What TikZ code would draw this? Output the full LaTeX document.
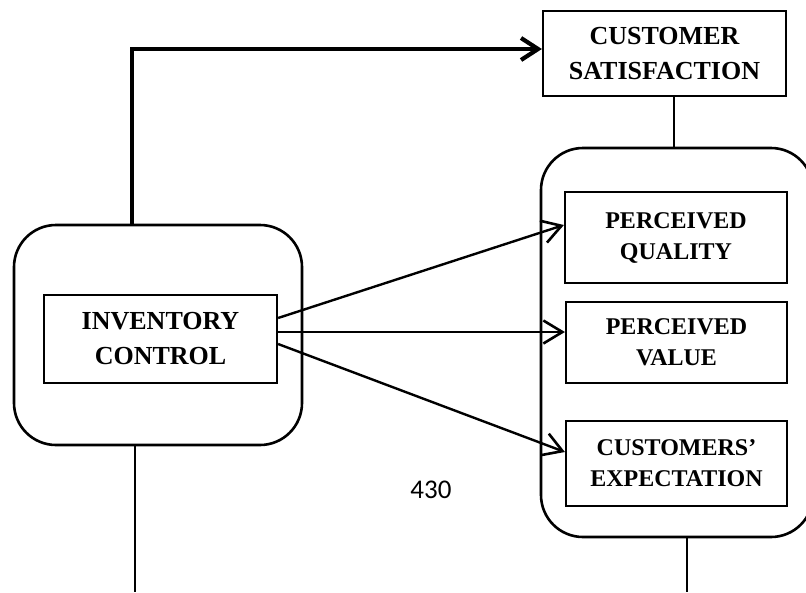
\documentclass[tikz,border=0pt]{standalone}
\usepackage{fontspec}
\setmainfont{Liberation Serif}
\newfontfamily\carl{Carlito}
\usetikzlibrary{arrows.meta,calc}
\tikzset{
  box/.style={draw,line width=2.2pt,align=center,inner sep=0pt,font=\bfseries},
  bigtxt/.style={font=\fontsize{26}{35}\selectfont\bfseries},
  smalltxt/.style={font=\fontsize{24}{31}\selectfont\bfseries},
  rbox/.style={draw,line width=2.6pt,rounded corners=42pt,inner sep=0pt},
  conn/.style={line width=2.4pt},
  arr/.style={line width=2.4pt,-{Straight Barb[length=19pt,width=23pt,line width=2.6pt]}},
  toparr/.style={line width=4.2pt,-{Straight Barb[length=17pt,width=22pt,line width=4.2pt]}}
}
\begin{document}
\begin{tikzpicture}[x=1pt,y=-1pt]
\useasboundingbox (0,0) rectangle (806,592);
% rounded containers
\node[rbox,minimum width=288pt,minimum height=220pt] (lb) at (158,335) {};
\node[rbox,minimum width=272pt,minimum height=389pt] (rb) at (677,342.5) {};
% boxes
\node[box,bigtxt,minimum width=233pt,minimum height=88pt] (ic) at (160.5,339) {INVENTORY\\CONTROL};
\node[box,bigtxt,minimum width=243pt,minimum height=85pt] (cs) at (664.5,53.5) {CUSTOMER\\SATISFACTION};
\node[box,smalltxt,minimum width=222pt,minimum height=91pt] (pq) at (676,237.5) {PERCEIVED\\QUALITY};
\node[box,smalltxt,minimum width=221pt,minimum height=81pt] (pv) at (676.5,342.5) {PERCEIVED\\VALUE};
\node[box,smalltxt,minimum width=221pt,minimum height=85pt] (ce) at (676.5,463.5) {CUSTOMERS'\\EXPECTATION};
% page number
\node[font=\carl\fontsize{27}{30}\selectfont] (pg) at (431,490) {430};
% coordinates
\coordinate (tj) at (132,49);
\coordinate (lbot) at (135,592);
\coordinate (rbot) at (687,592);
% connectors
\draw[toparr] (tj |- lb.north) -- (tj) -- (tj -| cs.west);
\draw[conn] (674,0 |- cs.south) -- (674,0 |- rb.north);
\draw[arr] ($(ic.east)+(0,-21)$) -- ($(pq.west)+(0,-12.5)$);
\draw[arr] ($(ic.east)+(0,-7)$) -- ($(pv.west)+(0,-10.5)$);
\draw[arr] ($(ic.east)+(0,5)$) -- ($(ce.west)+(0,-11.5)$);
\draw[conn] (lbot |- lb.south) -- (lbot);
\draw[conn] (rbot |- rb.south) -- (rbot);
\end{tikzpicture}
\end{document}
